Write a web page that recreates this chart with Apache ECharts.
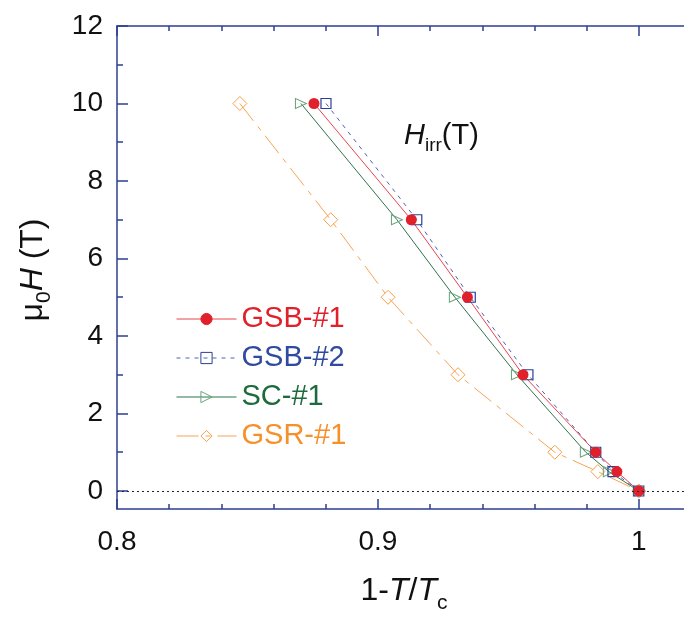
<!DOCTYPE html>
<html>
<head>
<meta charset="utf-8">
<script src="https://cdn.jsdelivr.net/npm/echarts@6/dist/echarts.min.js"></script>
<style>
html, body { margin: 0; padding: 0; background: #fff; }
#main { width: 684px; height: 619px; }
</style>
</head>
<body>
<div id="main"></div>
<script>
// field values (T) shared by all samples
var fieldT = [10, 7, 5, 3, 1, 0.5, 0];
// 1 - T/Tc for each sample
var gsb1X = [0.8755, 0.9128, 0.9343, 0.9556, 0.9835, 0.9916, 1.0];
var gsb2X = [0.8801, 0.9149, 0.9354, 0.9575, 0.9835, 0.9901, 1.0];
var sc1X  = [0.8705, 0.9073, 0.9295, 0.9533, 0.9797, 0.9885, 1.0];
var gsr1X = [0.8471, 0.8819, 0.9039, 0.9307, 0.9678, 0.9843, 1.0];

var xMajorTicks = [0.8, 0.9, 1.0];
var xMinorTicks = [0.82, 0.84, 0.86, 0.88, 0.92, 0.94, 0.96, 0.98];
var yMajorTicks = [0, 2, 4, 6, 8, 10, 12];
var yMinorTicks = [1, 3, 5, 7, 9, 11];

var FONT = "'Liberation Sans', Arial, Helvetica, sans-serif";
var axisBlue = '#2c3f94';
var red = '#e0202a', blue = '#2f4a9e', green = '#1d6a3a', orange = '#f5902b';

function pairs(xs, ys) {
    return xs.map(function (x, i) { return [x, ys[i]]; });
}

function xAxisDef(pos, ticks, len, showLine, showLabel) {
    return {
        type: 'value', position: pos, min: 0.8, max: 1.02,
        axisLine: { show: showLine, onZero: false, lineStyle: { color: axisBlue, width: 1.5 } },
        axisTick: { show: true, inside: true, length: len, customValues: ticks,
                    lineStyle: { color: axisBlue, width: 1.5 } },
        axisLabel: { show: showLabel, customValues: xMajorTicks, color: '#111',
                     fontSize: 28, fontFamily: FONT, margin: 19 },
        splitLine: { show: false }
    };
}
function yAxisDef(ticks, len, showLine, showLabel) {
    return {
        type: 'value', position: 'left', min: -0.465, max: 12,
        axisLine: { show: showLine, onZero: false, lineStyle: { color: axisBlue, width: 1.5 } },
        axisTick: { show: true, inside: true, length: len, customValues: ticks,
                    lineStyle: { color: axisBlue, width: 1.5 } },
        axisLabel: { show: showLabel, customValues: yMajorTicks, color: '#111',
                     fontSize: 28, fontFamily: FONT, margin: 14 },
        splitLine: { show: false }
    };
}

var chart = echarts.init(document.getElementById('main'));
chart.setOption({
    animation: false,
    backgroundColor: '#fff',
    grid: { left: 117, top: 26, right: -7, bottom: 110, outerBoundsMode: 'none' },
    xAxis: [
        xAxisDef('bottom', xMajorTicks, 10, true, true),
        xAxisDef('bottom', xMinorTicks, 5, false, false),
        xAxisDef('top', xMajorTicks, 10, true, false),
        xAxisDef('top', xMinorTicks, 5, false, false)
    ],
    yAxis: [
        yAxisDef(yMajorTicks, 11, true, true),
        yAxisDef(yMinorTicks, 6, false, false)
    ],
    legend: {
        orient: 'vertical', left: 176, top: 304, padding: 0,
        itemWidth: 60, itemHeight: 14, itemGap: 9,
        selectedMode: false,
        lineStyle: { width: 1 },
        itemStyle: { borderWidth: 1 },
        textStyle: { fontSize: 29, fontFamily: FONT, lineHeight: 30 },
        data: [
            { name: 'GSB-#1', textStyle: { color: red } },
            { name: 'GSB-#2', textStyle: { color: blue } },
            { name: 'SC-#1', textStyle: { color: green } },
            { name: 'GSR-#1', textStyle: { color: orange } }
        ]
    },
    series: [
        {
            name: 'GSR-#1', type: 'line', data: pairs(gsr1X, fieldT),
            symbol: 'diamond', symbolSize: 14,
            lineStyle: { color: '#f7a452', width: 1, type: [22, 7, 5, 7] },
            itemStyle: { color: 'rgba(255,255,255,0)', borderColor: '#f8a048', borderWidth: 1 },
            markLine: {
                silent: true, symbol: ['none', 'none'], label: { show: false },
                lineStyle: { color: '#222', width: 1, type: [2, 3] },
                data: [{ yAxis: 0 }]
            }
        },
        {
            name: 'SC-#1', type: 'line', data: pairs(sc1X, fieldT),
            symbol: 'triangle', symbolRotate: -90, symbolSize: [10, 11],
            lineStyle: { color: '#2f744a', width: 1 },
            itemStyle: { color: 'rgba(255,255,255,0)', borderColor: '#6aa57c', borderWidth: 1 }
        },
        {
            name: 'GSB-#2', type: 'line', data: pairs(gsb2X, fieldT),
            symbol: 'rect', symbolSize: 10,
            lineStyle: { color: '#4e60b4', width: 1, type: [4, 5] },
            itemStyle: { color: 'rgba(255,255,255,0)', borderColor: '#2b3f96', borderWidth: 1.2 }
        },
        {
            name: 'GSB-#1', type: 'line', data: pairs(gsb1X, fieldT),
            symbol: 'circle', symbolSize: 11,
            lineStyle: { color: '#e8454d', width: 1 },
            itemStyle: { color: red, borderColor: red, borderWidth: 0 }
        }
    ],
    graphic: [
        {
            type: 'text', x: 33, y: 270, rotation: Math.PI / 2,
            style: {
                text: '{n|μ}{s|0}{i|H}{n| (T)}', align: 'center', verticalAlign: 'middle',
                rich: {
                    n: { fontSize: 32, fontFamily: FONT, fill: '#111', lineHeight: 32 },
                    i: { fontSize: 32, fontFamily: FONT, fill: '#111', lineHeight: 32, fontStyle: 'italic' },
                    s: { fontSize: 21, fontFamily: FONT, fill: '#111', lineHeight: 21, padding: [22, 0, 0, 0] }
                }
            }
        },
        {
            type: 'text', x: 404, y: 591,
            style: {
                text: '{n|1-}{i|T}{n|/}{i|T}{s|c}', align: 'center', verticalAlign: 'middle',
                rich: {
                    n: { fontSize: 32, fontFamily: FONT, fill: '#111', lineHeight: 32 },
                    i: { fontSize: 32, fontFamily: FONT, fill: '#111', lineHeight: 32, fontStyle: 'italic' },
                    s: { fontSize: 21, fontFamily: FONT, fill: '#111', lineHeight: 21, padding: [24, 0, 0, 0] }
                }
            }
        },
        {
            type: 'text', x: 404, y: 136,
            style: {
                text: '{i|H}{s|irr}{n|(T)}', align: 'left', verticalAlign: 'middle',
                rich: {
                    n: { fontSize: 29, fontFamily: FONT, fill: '#111', lineHeight: 29 },
                    i: { fontSize: 29, fontFamily: FONT, fill: '#111', lineHeight: 29, fontStyle: 'italic' },
                    s: { fontSize: 19, fontFamily: FONT, fill: '#111', lineHeight: 19, padding: [19, 0, 0, 0] }
                }
            }
        }
    ]
});
</script>
</body>
</html>
